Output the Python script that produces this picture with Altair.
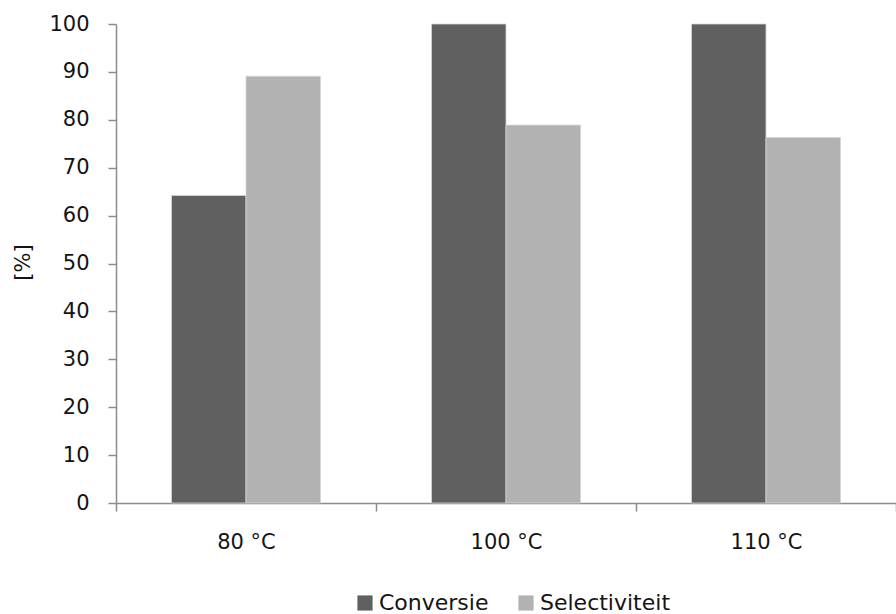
import altair as alt
import pandas as pd

# Reaction temperatures and measured results (%)
temperatures = ["80 °C", "100 °C", "110 °C"]
conversie = [64.2, 100, 100]
selectiviteit = [89.1, 78.9, 76.3]
series = ["Conversie", "Selectiviteit"]
series_colors = ["#606060", "#b2b2b2"]
y_ticks = [0, 10, 20, 30, 40, 50, 60, 70, 80, 90, 100]

rows = []
for t, c, s in zip(temperatures, conversie, selectiviteit):
    rows.append({"temp": t, "serie": series[0], "value": c})
    rows.append({"temp": t, "serie": series[1], "value": s})
df = pd.DataFrame(rows)

FONT = "DejaVu Sans"
AXIS_GREY = "#8c8c8c"
TEXT = "#141414"

bars = alt.Chart(df).mark_bar(stroke="#d6d6d6", strokeWidth=0.8).encode(
    x=alt.X(
        "temp:N",
        sort=temperatures,
        title=None,
        scale=alt.Scale(paddingInner=0, paddingOuter=0),
        axis=alt.Axis(
            labelAngle=0,
            labelFontSize=21,
            labelFont=FONT,
            labelColor=TEXT,
            labelPadding=20,
            tickBand="extent",
            tickSize=8,
            tickColor=AXIS_GREY,
            domainColor=AXIS_GREY,
            domainWidth=1.5,
            tickWidth=1.5,
        ),
    ),
    xOffset=alt.XOffset(
        "serie:N",
        sort=series,
        scale=alt.Scale(paddingInner=0, paddingOuter=0.745),
    ),
    y=alt.Y(
        "value:Q",
        title="[%]",
        scale=alt.Scale(domain=[0, 100], nice=False),
        axis=alt.Axis(
            values=y_ticks,
            grid=False,
            labelFontSize=21,
            labelFont=FONT,
            labelColor=TEXT,
            labelPadding=19,
            tickSize=8,
            tickColor=AXIS_GREY,
            domainColor=AXIS_GREY,
            domainWidth=1.5,
            tickWidth=1.5,
            titleFont=FONT,
            titleFontSize=21,
            titleFontWeight="normal",
            titleColor=TEXT,
            titleX=-93,
            titleY=238,
            titleAngle=-90,
            titleBaseline="middle",
        ),
    ),
    color=alt.Color(
        "serie:N",
        sort=series,
        scale=alt.Scale(domain=series, range=series_colors),
        legend=alt.Legend(
            title=None,
            orient="none",
            direction="horizontal",
            legendX=238,
            legendY=568,
            symbolType="square",
            symbolSize=230,
            symbolStrokeWidth=0,
            labelFont=FONT,
            labelFontSize=22,
            labelColor=TEXT,
            labelOffset=3,
            columnPadding=26,
        ),
    ),
)

chart = bars.properties(
    width=780,
    height=479,
    background="white",
    autosize=alt.AutoSizeParams(type="none"),
    padding={"left": 116, "top": 24, "right": 0, "bottom": 111},
).configure_view(strokeWidth=0, stroke="transparent")

chart.save("out.html", embed_options={"renderer": "svg", "actions": False})
